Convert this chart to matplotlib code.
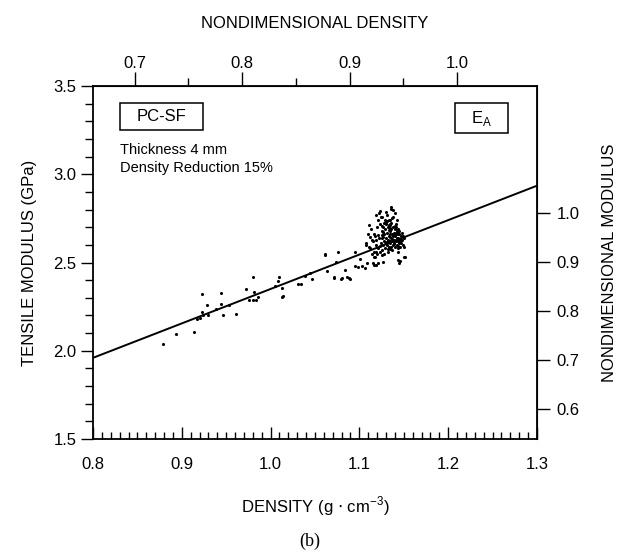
import numpy as np
import matplotlib
matplotlib.use('Agg')
import matplotlib.pyplot as plt
from matplotlib.patches import Rectangle
from matplotlib.ticker import MultipleLocator, FixedLocator

plt.rcParams['font.family'] = ['Liberation Sans', 'DejaVu Sans']

# density (g/cm3) and tensile modulus (GPa)
density = [
    0.879, 0.894, 0.914, 0.917, 0.920, 0.923, 0.923, 0.924, 0.928, 0.930,
    0.939, 0.944, 0.944, 0.946, 0.953, 0.961, 0.972, 0.976, 0.980, 0.980,
    0.981, 0.984, 0.986, 1.005, 1.008, 1.010, 1.013, 1.013, 1.014, 1.031,
    1.034, 1.039, 1.044, 1.047, 1.061, 1.061, 1.063, 1.071, 1.072, 1.074,
    1.076, 1.079, 1.080, 1.084, 1.086, 1.088, 1.089, 1.095, 1.095, 1.098,
    1.101, 1.103, 1.106, 1.107, 1.109, 1.111, 1.112, 1.114, 1.115, 1.116,
    1.116, 1.118, 1.119, 1.119, 1.119, 1.121, 1.121, 1.122, 1.123, 1.123,
    1.125, 1.127, 1.131, 1.134, 1.136, 1.136, 1.138, 1.140, 1.142, 1.144,
    1.144, 1.145, 1.146, 1.150, 1.151,
    # dense cluster
    1.108, 1.110, 1.112, 1.113, 1.115, 1.116, 1.118, 1.119, 1.120, 1.121,
    1.122, 1.123, 1.124, 1.125, 1.125, 1.126, 1.127, 1.127, 1.128, 1.128,
    1.129, 1.129, 1.130, 1.130, 1.131, 1.131, 1.132, 1.132, 1.133, 1.133,
    1.133, 1.134, 1.134, 1.135, 1.135, 1.135, 1.136, 1.136, 1.136, 1.137,
    1.137, 1.137, 1.138, 1.138, 1.138, 1.139, 1.139, 1.139, 1.140, 1.140,
    1.140, 1.141, 1.141, 1.141, 1.142, 1.142, 1.142, 1.143, 1.143, 1.143,
    1.144, 1.144, 1.145, 1.145, 1.146, 1.146, 1.147, 1.147, 1.148, 1.148,
    1.149, 1.149, 1.150, 1.150, 1.126, 1.130, 1.134, 1.138, 1.132, 1.128,
    1.117, 1.114, 1.111, 1.120, 1.124, 1.141, 1.145, 1.137, 1.133, 1.129,
    1.127, 1.131, 1.135, 1.139, 1.143, 1.147, 1.121, 1.125, 1.129, 1.133,
    1.137, 1.141, 1.145, 1.123, 1.127, 1.131, 1.135, 1.139, 1.143, 1.119,
    1.132, 1.136, 1.140, 1.144, 1.128, 1.134, 1.138, 1.142, 1.126, 1.130,
]
modulus = [
    2.037, 2.097, 2.108, 2.180, 2.185, 2.320, 2.220, 2.200, 2.260, 2.200,
    2.235, 2.265, 2.330, 2.200, 2.260, 2.210, 2.350, 2.290, 2.420, 2.290,
    2.335, 2.290, 2.305, 2.367, 2.397, 2.420, 2.354, 2.306, 2.310, 2.380,
    2.378, 2.425, 2.440, 2.405, 2.546, 2.540, 2.450, 2.410, 2.420, 2.505,
    2.560, 2.405, 2.410, 2.458, 2.420, 2.410, 2.405, 2.560, 2.480, 2.473,
    2.520, 2.480, 2.467, 2.610, 2.495, 2.710, 2.646, 2.546, 2.499, 2.486,
    2.530, 2.533, 2.486, 2.770, 2.560, 2.740, 2.495, 2.780, 2.561, 2.790,
    2.540, 2.505, 2.770, 2.740, 2.816, 2.806, 2.800, 2.780, 2.740, 2.515,
    2.560, 2.500, 2.510, 2.533, 2.530,
    # dense cluster
    2.600, 2.660, 2.580, 2.690, 2.620, 2.560, 2.650, 2.600, 2.700, 2.580,
    2.640, 2.720, 2.610, 2.680, 2.570, 2.640, 2.700, 2.600, 2.660, 2.620,
    2.690, 2.580, 2.640, 2.720, 2.600, 2.670, 2.630, 2.700, 2.590, 2.650,
    2.740, 2.610, 2.680, 2.620, 2.660, 2.710, 2.590, 2.640, 2.690, 2.620,
    2.660, 2.750, 2.600, 2.650, 2.700, 2.630, 2.670, 2.610, 2.590, 2.650,
    2.690, 2.620, 2.660, 2.720, 2.600, 2.640, 2.680, 2.620, 2.660, 2.580,
    2.640, 2.690, 2.610, 2.660, 2.630, 2.590, 2.650, 2.610, 2.670, 2.630,
    2.600, 2.650, 2.640, 2.590, 2.760, 2.730, 2.720, 2.760, 2.560, 2.550,
    2.660, 2.630, 2.590, 2.550, 2.760, 2.700, 2.680, 2.570, 2.710, 2.740,
    2.675, 2.615, 2.645, 2.605, 2.675, 2.625, 2.655, 2.705, 2.615, 2.685,
    2.635, 2.665, 2.615, 2.595, 2.645, 2.735, 2.695, 2.655, 2.625, 2.625,
    2.575, 2.725, 2.705, 2.595, 2.725, 2.575, 2.625, 2.665, 2.655, 2.785,
]

# linear fit line
fit_x = [0.8, 1.3]
fit_y = [1.96, 2.935]

rho_ref = 1.21   # density used for nondimensional density
mod_ref = 2.78   # modulus used for nondimensional modulus

fs = 12

fig = plt.figure(figsize=(6.2, 5.57), dpi=100)
ax = fig.add_axes([0.15, 0.2118, 0.716, 0.6338])

ax.plot(fit_x, fit_y, color='black', lw=1.4)
ax.scatter(density, modulus, s=5, color='black', marker='o', linewidths=0)

ax.set_xlim(0.8, 1.3)
ax.set_ylim(1.5, 3.5)
ax.xaxis.set_major_locator(MultipleLocator(0.1))
ax.xaxis.set_minor_locator(MultipleLocator(0.01))
ax.yaxis.set_major_locator(MultipleLocator(0.5))
ax.yaxis.set_minor_locator(MultipleLocator(0.1))
ax.xaxis.set_major_formatter(plt.FormatStrFormatter('%.1f'))
ax.yaxis.set_major_formatter(plt.FormatStrFormatter('%.1f'))
ax.tick_params(axis='x', which='major', direction='in', length=9, width=1, labelsize=fs, pad=13)
ax.tick_params(axis='x', which='minor', direction='in', length=5, width=1)
ax.tick_params(axis='y', which='major', direction='out', length=9, width=1, labelsize=fs, pad=3)
ax.tick_params(axis='y', which='minor', direction='out', length=6, width=1)
for s in ax.spines.values():
    s.set_linewidth(1.3)

ax.set_xlabel(r'DENSITY (g $\cdot$ cm$^{\mathregular{-3}}$)', fontsize=fs, labelpad=16)
ax.set_ylabel('TENSILE MODULUS (GPa)', fontsize=fs, labelpad=12)

top = ax.secondary_xaxis('top', functions=(lambda x: x / rho_ref, lambda x: x * rho_ref))
top.xaxis.set_major_locator(FixedLocator([0.7, 0.8, 0.9, 1.0]))
top.xaxis.set_minor_locator(FixedLocator([0.75, 0.85, 0.95]))
top.xaxis.set_major_formatter(plt.FormatStrFormatter('%.1f'))
top.tick_params(which='major', direction='out', length=10, width=1, labelsize=fs, pad=1)
top.tick_params(which='minor', direction='out', length=6, width=1)
top.set_xlabel('NONDIMENSIONAL DENSITY', fontsize=fs, labelpad=20)

right = ax.secondary_yaxis('right', functions=(lambda y: y / mod_ref, lambda y: y * mod_ref))
right.yaxis.set_major_locator(FixedLocator([0.6, 0.7, 0.8, 0.9, 1.0]))
right.yaxis.set_minor_locator(FixedLocator([]))
right.yaxis.set_major_formatter(plt.FormatStrFormatter('%.1f'))
right.tick_params(which='major', direction='out', length=9, width=1, labelsize=fs, pad=5)
right.set_ylabel('NONDIMENSIONAL MODULUS', fontsize=fs, labelpad=16)

# label boxes
ax.add_patch(Rectangle((0.061, 0.875), 0.187, 0.077, transform=ax.transAxes,
                       fill=False, ec='black', lw=1.1))
ax.text(0.1545, 0.9135, 'PC-SF', transform=ax.transAxes, fontsize=fs, ha='center', va='center')
ax.add_patch(Rectangle((0.815, 0.867), 0.12, 0.085, transform=ax.transAxes,
                       fill=False, ec='black', lw=1.1))
ax.text(0.875, 0.909, r'E$_\mathregular{A}$', transform=ax.transAxes, fontsize=fs, ha='center', va='center')
ax.text(0.061, 0.819, 'Thickness 4 mm', transform=ax.transAxes, fontsize=10.5, ha='left', va='center')
ax.text(0.061, 0.768, 'Density Reduction 15%', transform=ax.transAxes, fontsize=10.5, ha='left', va='center')

fig.text(0.5, 0.028, '(b)', fontsize=13, ha='center', va='center', family=['Liberation Serif'])

fig.savefig('out.png', dpi=100)
